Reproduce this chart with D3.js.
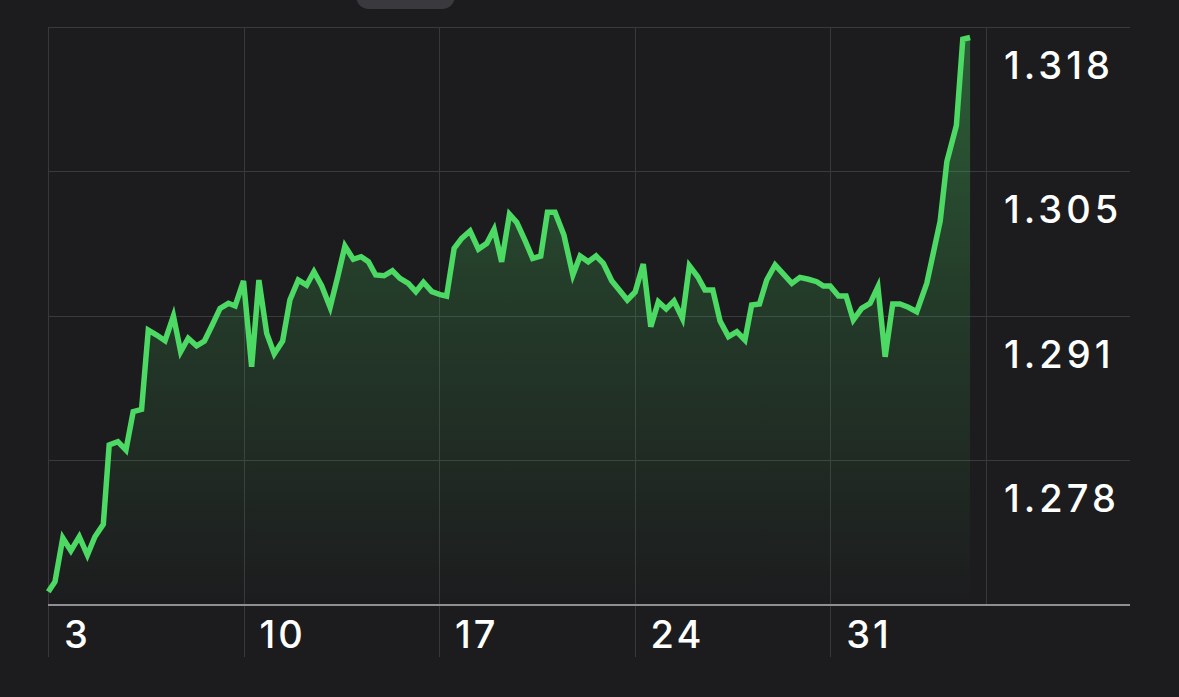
<!DOCTYPE html>
<html>
<head>
<meta charset="utf-8">
<script src="https://cdn.jsdelivr.net/npm/d3@7"></script>
<style>
  html, body { margin: 0; padding: 0; background: #1c1c1e; }
  svg { display: block; }
  text { font-family: Inter, "Noto Sans", sans-serif; fill: #ffffff; }
</style>
</head>
<body>
<svg id="chart" width="1179" height="697"></svg>
<script>
// ---- data (day of month, value) ----
const days = [3.01,3.25,3.53,3.82,4.12,4.41,4.68,4.98,5.19,5.50,5.79,6.05,6.35,6.59,6.89,7.19,7.49,7.75,8.02,8.32,8.60,8.88,9.16,9.46,9.70,10.00,10.29,10.55,10.83,11.10,11.40,11.66,11.96,12.26,12.52,12.80,13.10,13.37,13.63,13.93,14.21,14.47,14.73,15.03,15.33,15.60,15.90,16.17,16.44,16.74,17.04,17.27,17.54,17.81,18.11,18.41,18.71,18.97,19.24,19.52,19.78,20.08,20.35,20.64,20.88,21.15,21.47,21.79,22.05,22.34,22.62,22.88,23.18,23.48,23.74,24.02,24.31,24.58,24.85,25.13,25.41,25.71,25.96,26.26,26.52,26.80,27.06,27.36,27.66,27.95,28.19,28.47,28.73,29.03,29.33,29.63,29.92,30.22,30.52,30.76,31.00,31.30,31.57,31.83,32.13,32.43,32.71,32.97,33.24,33.50,33.80,34.10,34.46,34.94,35.18,35.52,35.75,36.01];
const values = [1.26535,1.26629,1.27038,1.26919,1.27050,1.26878,1.27050,1.27166,1.27908,1.27939,1.27861,1.28220,1.28242,1.28984,1.28937,1.28884,1.29115,1.28781,1.28907,1.28837,1.28881,1.29031,1.29187,1.29234,1.29209,1.29443,1.28641,1.29452,1.28953,1.28760,1.28881,1.29265,1.29452,1.29405,1.29530,1.29396,1.29197,1.29480,1.29770,1.29646,1.29670,1.29623,1.29499,1.29492,1.29539,1.29468,1.29421,1.29343,1.29431,1.29343,1.29316,1.29302,1.29749,1.29842,1.29911,1.29742,1.29796,1.29927,1.29623,1.30067,1.29992,1.29820,1.29655,1.29677,1.30086,1.30086,1.29873,1.29499,1.29677,1.29623,1.29677,1.29608,1.29446,1.29349,1.29265,1.29340,1.29602,1.29015,1.29249,1.29181,1.29256,1.29094,1.29586,1.29483,1.29359,1.29359,1.29068,1.28922,1.28968,1.28891,1.29218,1.29228,1.29452,1.29593,1.29508,1.29421,1.29477,1.29459,1.29436,1.29396,1.29396,1.29302,1.29302,1.29078,1.29187,1.29234,1.29389,1.28734,1.29228,1.29228,1.29197,1.29155,1.29421,1.30004,1.30561,1.30898,1.31705,1.31722];

const xTicks = [3, 10, 17, 24, 31];
const xTickLabels = ["3", "10", "17", "24", "31"];
const xDomain = [3, 36.58];

const yTicks = [1.3182, 1.3047, 1.2912, 1.2777];
const yTickLabels = ["1.318", "1.305", "1.291", "1.278"];
const yDomain = [1.2642, 1.3182];

(function () {
// ---- layout ----
const svg = d3.select("#chart");
const W = 1179, H = 697;
const mLeft = 48, plotRight = 986, gridRight = 1130, mTop = 27, mBottom = 604;

svg.append("rect").attr("width", W).attr("height", H).attr("fill", "#1c1c1e");

// top pill
svg.append("rect").attr("x", 356).attr("y", -20).attr("width", 99).attr("height", 29)
  .attr("rx", 13).attr("fill", "#3a3a3e");

const x = d3.scaleLinear().domain(xDomain).range([mLeft, plotRight]);
const y = d3.scaleLinear().domain(yDomain).range([mBottom, mTop]);

const data = days.map((d, i) => ({ d, v: values[i] }));

// horizontal grid
svg.append("g").selectAll("line").data(yTicks).join("line")
  .attr("x1", mLeft).attr("x2", gridRight)
  .attr("y1", d => Math.round(y(d)) + 0.5).attr("y2", d => Math.round(y(d)) + 0.5)
  .attr("stroke", "#3a3a3c").attr("stroke-width", 1);

// vertical grid
svg.append("g").selectAll("line").data(xTicks).join("line")
  .attr("x1", d => Math.round(x(d)) + 0.5).attr("x2", d => Math.round(x(d)) + 0.5)
  .attr("y1", mTop).attr("y2", 657)
  .attr("stroke", "#38383a").attr("stroke-width", 1);
svg.append("line")
  .attr("x1", Math.round(x(xDomain[1])) + 0.5).attr("x2", Math.round(x(xDomain[1])) + 0.5)
  .attr("y1", mTop).attr("y2", mBottom)
  .attr("stroke", "#38383a").attr("stroke-width", 1);

// gradient
const defs = svg.append("defs");
const grad = defs.append("linearGradient").attr("id", "fillGrad")
  .attr("gradientUnits", "userSpaceOnUse")
  .attr("x1", 0).attr("y1", mTop).attr("x2", 0).attr("y2", mBottom);
grad.append("stop").attr("offset", "0%").attr("stop-color", "#4cd964").attr("stop-opacity", 0.36);
grad.append("stop").attr("offset", "45%").attr("stop-color", "#4cd964").attr("stop-opacity", 0.17);
grad.append("stop").attr("offset", "100%").attr("stop-color", "#4cd964").attr("stop-opacity", 0.0);

const area = d3.area().x(p => x(p.d)).y0(mBottom).y1(p => y(p.v)).curve(d3.curveLinear);
const line = d3.line().x(p => x(p.d)).y(p => y(p.v)).curve(d3.curveLinear);

svg.append("path").datum(data).attr("d", area).attr("fill", "url(#fillGrad)");

// baseline
svg.append("line").attr("x1", mLeft).attr("x2", gridRight)
  .attr("y1", mBottom + 1).attr("y2", mBottom + 1)
  .attr("stroke", "#8e8e93").attr("stroke-width", 2);

svg.append("path").datum(data).attr("d", line)
  .attr("fill", "none").attr("stroke", "#4cd964").attr("stroke-width", 5.5)
  .attr("stroke-linejoin", "miter").attr("stroke-miterlimit", 4);

// x labels
svg.append("g").selectAll("text").data(xTicks).join("text")
  .attr("x", d => x(d) + 16).attr("y", 648)
  .attr("font-size", 38).attr("font-weight", 500)
  .attr("letter-spacing", "3px")
  .text((d, i) => xTickLabels[i]);

// y labels
svg.append("g").selectAll("text").data(yTicks).join("text")
  .attr("x", 1004).attr("y", d => y(d) + 52)
  .attr("font-size", 38).attr("font-weight", 500)
  .attr("letter-spacing", "4px")
  .text((d, i) => yTickLabels[i]);
})();
</script>
</body>
</html>
